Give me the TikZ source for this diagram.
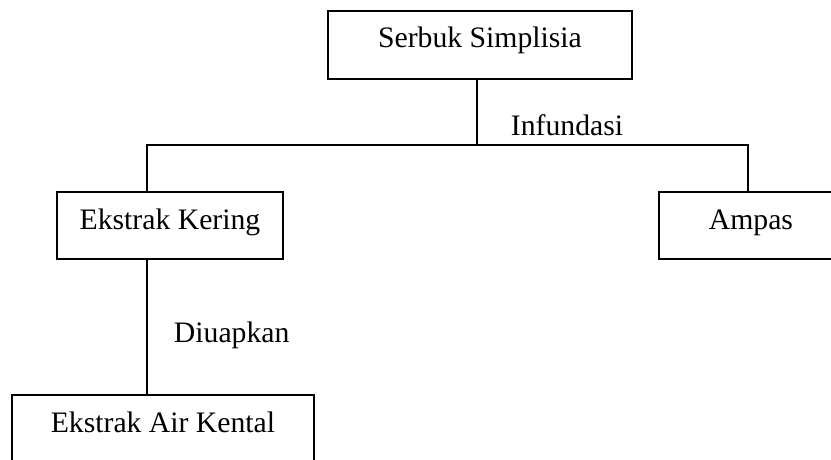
\documentclass[tikz,border=0pt]{standalone}
\usepackage{fontspec}
\setmainfont{Liberation Serif}
\usepackage{tikz}

\begin{document}
\begin{tikzpicture}[x=0.404pt,y=-0.404pt,line width=0.8pt,
    font=\fontsize{12pt}{14pt}\selectfont,
    kotak/.style={draw,anchor=north west,inner sep=0pt,align=center,
      text height=15.2pt,text depth=11.9pt},
    teks/.style={anchor=base west,inner sep=0pt}]
  % page is 831 x 459 px, 1px = 0.404pt
  \clip (0,0) rectangle (831,459);

  % boxes
  \node[kotak,minimum width=122.8pt,text height=14.9pt,text depth=12.5pt]
    (serbuk) at (327,10) {Serbuk Simplisia};
  \node[kotak,minimum width=91.3pt] (kering) at (56,191) {Ekstrak Kering};
  \node[kotak,minimum width=74.3pt] (ampas) at (658,191) {Ampas};
  \node[kotak,minimum width=122pt] (kental) at (11,394) {Ekstrak Air Kental};

  % split points
  \coordinate (pisah) at (477,145);
  \coordinate (kiri) at (147,145);
  \coordinate (kanan) at (748,145);

  % connectors
  \draw (serbuk.south -| pisah) -- (pisah);
  \draw (kering.north -| kiri) -- (kiri) -- (kanan) -- (ampas.north -| kanan);
  \draw (kering.south -| kiri) -- (kental.north -| kiri);

  % labels
  \node[teks] (infundasi) at (510,135) {Infundasi};
  \node[teks] (diuapkan) at (173,342) {Diuapkan};
\end{tikzpicture}
\end{document}
